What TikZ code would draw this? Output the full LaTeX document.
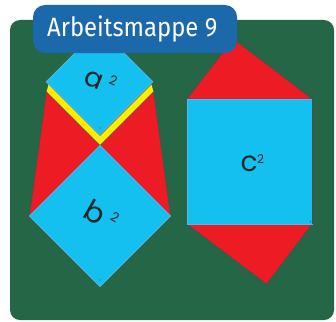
\documentclass[tikz,border=0pt]{standalone}
\usepackage{fontspec}
\setmainfont{Fira Sans}
\newfontfamily\geo{Poppins}
\newfontfamily\titlefont[FakeStretch=0.9]{Fira Sans}
\definecolor{bg}{RGB}{36,102,70}
\definecolor{lblue}{RGB}{27,104,170}
\definecolor{sky}{RGB}{20,192,240}
\definecolor{skyedge}{RGB}{90,180,230}
\definecolor{tred}{RGB}{237,28,36}
\definecolor{tyel}{RGB}{255,237,0}
\tikzset{
  sq/.style={fill=sky, draw=skyedge, line width=0.8pt},
  tri/.style={fill=tred, draw=black!70, line width=0.4pt},
  dotm/.style={fill=black!70, circle, inner sep=0pt, minimum size=1.4pt},
  lab/.style={inner sep=0pt, text=black!85},
}
\begin{document}
\begin{tikzpicture}[x=1pt,y=-1pt]
\useasboundingbox (0,0) rectangle (336,321);
\fill[bg, rounded corners=10pt] (10,20) rectangle (334,320);
% left figure
\fill[tyel] (46.5,92) -- (100,145.5) -- (153.5,92) -- (151.5,84.5) -- (100,136) -- (48.5,84.5) -- cycle;
\path[tri] (46.5,92) -- (29.5,216) -- (100,145.5) -- cycle;
\path[tri] (153.5,92) -- (170.5,216) -- (100,145.5) -- cycle;
\path[sq] (99.5,28.4) -- (152.8,81.7) -- (99.5,135) -- (46.2,81.7) -- cycle;
\path[sq] (100,145.5) -- (170.5,216) -- (100,286.5) -- (29.5,216) -- cycle;
% right figure
\path[tri] (187,99) -- (233.5,39) -- (312,99) -- cycle;
\path[tri] (187,224) -- (266.5,284) -- (312,224) -- cycle;
\path[sq] (187,99) rectangle (312,224);
\draw[black!70, line width=0.5pt] (312,99) -- (312,224);
% right-angle dots
\node[dotm] (da) at (100,128) {};
\node[dotm] (db) at (100,280) {};
\node[dotm] (dc) at (310.5,221.5) {};
% labels
\node[lab, rotate=-22, font=\geo\fontsize{27}{27}\selectfont] (la) at (94,80) {a};
\node[lab, rotate=-22, font=\geo\fontsize{13}{13}\selectfont] (la2) at (113.5,80.5) {2};
\node[lab, rotate=-30, font=\geo\fontsize{29}{29}\selectfont] (lb) at (95,212) {b};
\node[lab, rotate=-30, font=\geo\fontsize{13}{13}\selectfont] (lb2) at (115,217) {2};
\node[lab, font=\geo\fontsize{28}{28}\selectfont] (lc) at (249,164) {c};
\node[lab, font=\geo\fontsize{12}{12}\selectfont] (lc2) at (260.5,159) {2};
% title
\fill[lblue, rounded corners=12pt] (33,5) rectangle (237,53);
\node[anchor=base west, inner sep=0pt, text=white, font=\titlefont\fontsize{26.5}{26.5}\selectfont] (title) at (47,37) {Arbeitsmappe 9};
\end{tikzpicture}
\end{document}
